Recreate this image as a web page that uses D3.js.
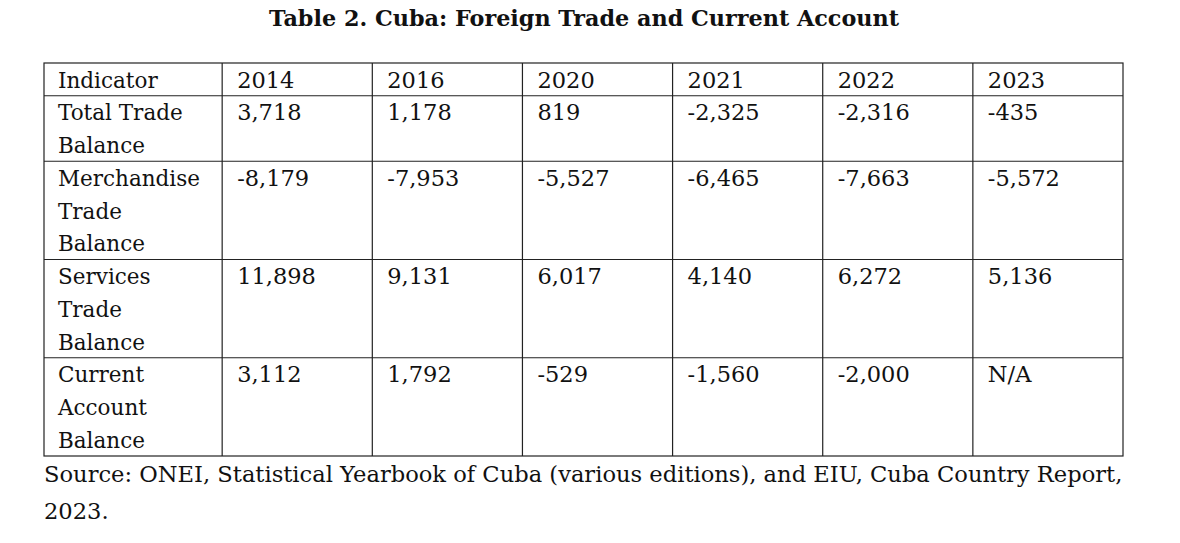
<!DOCTYPE html>
<html><head><meta charset="utf-8">
<script src="https://cdn.jsdelivr.net/npm/d3@7"></script>
<style>body{margin:0;background:#fff}text{font-family:"DejaVu Serif","Liberation Serif",serif;fill:#111}</style>
</head><body>
<svg id="chart" width="1180" height="543"></svg>
<script>
// table data
const title = "Table 2. Cuba: Foreign Trade and Current Account";
const years = ["2014", "2016", "2020", "2021", "2022", "2023"];
const indicators = [["Total Trade", "Balance"], ["Merchandise", "Trade", "Balance"], ["Services", "Trade", "Balance"], ["Current", "Account", "Balance"]];
const values = [
  ["3,718", "1,178", "819", "-2,325", "-2,316", "-435"],
  ["-8,179", "-7,953", "-5,527", "-6,465", "-7,663", "-5,572"],
  ["11,898", "9,131", "6,017", "4,140", "6,272", "5,136"],
  ["3,112", "1,792", "-529", "-1,560", "-2,000", "N/A"]
];
const source = ["Source: ONEI, Statistical Yearbook of Cuba (various editions), and EIU, Cuba Country Report,", "2023."];

const svg = d3.select("#chart");

// columns: first one wider (in units of a year column)
const firstW = 178 / 150;
const colStart = [0, ...years.map((d, i) => firstW + i)];
const x = d3.scaleLinear().domain([0, firstW + years.length]).range([44, 1123]);

// rows measured in text lines
const rowLines = [1, ...indicators.map(d => d.length)];
const rowStart = d3.cumsum([0, ...rowLines]);
const y = d3.scaleLinear().domain([0, rowStart[rowStart.length - 1]]).range([63, 456]);
const lineH = y(1) - y(0);

svg.append("text").attr("x", 584).attr("y", 26).attr("text-anchor", "middle")
  .style("font-weight", "bold").style("font-size", "22.3px").text(title);

const g = svg.append("g");
// borders
g.append("rect").attr("x", x(0)).attr("y", y(0)).attr("width", x.range()[1] - x(0)).attr("height", y.range()[1] - y(0))
  .attr("fill", "none").attr("stroke", "#222").attr("stroke-width", 1.2);
g.selectAll(".vl").data(colStart.slice(1)).join("line")
  .attr("x1", d => x(d)).attr("x2", d => x(d)).attr("y1", y(0)).attr("y2", y.range()[1])
  .attr("stroke", "#222").attr("stroke-width", 1.2);
g.selectAll(".hl").data(rowStart.slice(1, -1)).join("line")
  .attr("x1", x(0)).attr("x2", x.range()[1]).attr("y1", d => y(d)).attr("y2", d => y(d))
  .attr("stroke", "#222").attr("stroke-width", 1.2);

const rows = [["Indicator", ...years].map(d => [d])].concat(
  indicators.map((ind, i) => [ind, ...values[i].map(v => [v])]));

rows.forEach((row, r) => {
  row.forEach((lines, c) => {
    lines.forEach((t, k) => {
      g.append("text").attr("x", x(colStart[c]) + (c === 0 ? 14 : 15))
        .attr("y", y(rowStart[r] + k) + lineH * 0.75)
        .style("font-size", c === 0 ? "21.5px" : "22.5px").text(t);
    });
  });
});

svg.selectAll(".src").data(source).join("text")
  .attr("x", 44).attr("y", (d, i) => 482 + i * 37).style("font-size", "22.6px").text(d => d);
</script>
</body></html>
